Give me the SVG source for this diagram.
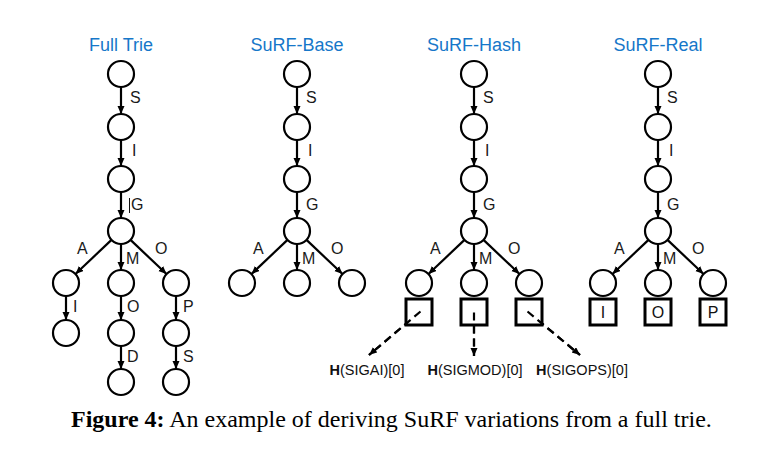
<svg xmlns="http://www.w3.org/2000/svg" width="764" height="449" viewBox="0 0 764 449">
<defs>
<marker id="ah" markerUnits="userSpaceOnUse" markerWidth="9" markerHeight="8" refX="8" refY="3.5" orient="auto">
<path d="M0,0 L8,3.5 L0,7 z" fill="#000"/>
</marker>
<style>
.title{font-family:"Liberation Sans",Arial,sans-serif;font-size:18px;fill:#1677c9;text-anchor:middle}
.lbl{font-family:"Liberation Sans",Arial,sans-serif;font-size:16px;fill:#1a1a1a}
.node circle{fill:#fff;stroke:#000;stroke-width:2.2}
.node rect{fill:#fff;stroke:#000;stroke-width:3}
.edge{stroke:#000;stroke-width:2.2;fill:none;marker-end:url(#ah)}
.dash{stroke:#000;stroke-width:2.2;fill:none;stroke-dasharray:8 5;marker-end:url(#ah)}
.hl{font-family:"Liberation Sans",Arial,sans-serif;font-size:14.5px;fill:#111;text-anchor:middle}
.box{font-family:"Liberation Sans",Arial,sans-serif;font-size:16px;fill:#111;text-anchor:middle}
.cap{font-family:"Liberation Serif","Times New Roman",serif;font-size:24px;fill:#000}
</style>
</defs>
<rect width="764" height="449" fill="#fff"/>

<!-- titles -->
<text class="title" x="121" y="51">Full Trie</text>
<text class="title" x="297" y="51">SuRF-Base</text>
<text class="title" x="474" y="51">SuRF-Hash</text>
<text class="title" x="658" y="51">SuRF-Real</text>

<!-- connectors -->
<g id="connectors">
<!-- Full trie -->
<line class="edge" x1="121" y1="87" x2="121" y2="114"/>
<line class="edge" x1="121" y1="140" x2="121" y2="166"/>
<line class="edge" x1="121" y1="192" x2="121" y2="218"/>
<line class="edge" x1="111.5" y1="239.9" x2="75.5" y2="274"/>
<line class="edge" x1="121" y1="244" x2="121" y2="270"/>
<line class="edge" x1="130.5" y1="239.9" x2="166.5" y2="274"/>
<line class="edge" x1="66" y1="296" x2="66" y2="320"/>
<line class="edge" x1="121" y1="296" x2="121" y2="320"/>
<line class="edge" x1="176" y1="296" x2="176" y2="320"/>
<line class="edge" x1="121" y1="346" x2="121" y2="369"/>
<line class="edge" x1="176" y1="346" x2="176" y2="369"/>
<!-- Base -->
<line class="edge" x1="297" y1="87" x2="297" y2="114"/>
<line class="edge" x1="297" y1="140" x2="297" y2="166"/>
<line class="edge" x1="297" y1="192" x2="297" y2="218"/>
<line class="edge" x1="287.5" y1="239.9" x2="251.5" y2="274"/>
<line class="edge" x1="297" y1="244" x2="297" y2="270"/>
<line class="edge" x1="306.5" y1="239.9" x2="342.5" y2="274"/>
<!-- Hash -->
<line class="edge" x1="474" y1="87" x2="474" y2="114"/>
<line class="edge" x1="474" y1="140" x2="474" y2="166"/>
<line class="edge" x1="474" y1="192" x2="474" y2="218"/>
<line class="edge" x1="464.5" y1="239.9" x2="428.5" y2="274"/>
<line class="edge" x1="474" y1="244" x2="474" y2="270"/>
<line class="edge" x1="483.5" y1="239.9" x2="519.5" y2="274"/>
<line class="dash" x1="420.5" y1="311.5" x2="369" y2="355"/>
<line class="dash" x1="474" y1="312.5" x2="474" y2="356"/>
<line class="dash" x1="527.5" y1="311.5" x2="580" y2="355"/>
<!-- Real -->
<line class="edge" x1="658" y1="87" x2="658" y2="114"/>
<line class="edge" x1="658" y1="140" x2="658" y2="166"/>
<line class="edge" x1="658" y1="192" x2="658" y2="218"/>
<line class="edge" x1="648.5" y1="239.9" x2="612.5" y2="274"/>
<line class="edge" x1="658" y1="244" x2="658" y2="270"/>
<line class="edge" x1="667.5" y1="239.9" x2="703.5" y2="274"/>
</g>

<!-- edge labels -->
<g id="labels">
<text class="lbl" x="130" y="103">S</text>
<text class="lbl" x="132" y="156">I</text>
<line x1="129.5" y1="198" x2="129.5" y2="213" stroke="#111" stroke-width="1"/>
<text class="lbl" x="131" y="210">G</text>
<text class="lbl" x="77" y="254">A</text>
<text class="lbl" x="126" y="264">M</text>
<text class="lbl" x="155" y="254">O</text>
<text class="lbl" x="73" y="311.5">I</text>
<text class="lbl" x="127" y="311.5">O</text>
<text class="lbl" x="183" y="311.5">P</text>
<text class="lbl" x="127" y="362">D</text>
<text class="lbl" x="183" y="362">S</text>

<text class="lbl" x="306" y="103">S</text>
<text class="lbl" x="308" y="156">I</text>
<text class="lbl" x="306" y="210">G</text>
<text class="lbl" x="253" y="254">A</text>
<text class="lbl" x="302" y="264">M</text>
<text class="lbl" x="331" y="254">O</text>

<text class="lbl" x="483" y="103">S</text>
<text class="lbl" x="485" y="156">I</text>
<text class="lbl" x="483" y="210">G</text>
<text class="lbl" x="430" y="254">A</text>
<text class="lbl" x="479" y="264">M</text>
<text class="lbl" x="508" y="254">O</text>

<text class="lbl" x="667" y="103">S</text>
<text class="lbl" x="669" y="156">I</text>
<text class="lbl" x="667" y="210">G</text>
<text class="lbl" x="614" y="254">A</text>
<text class="lbl" x="663" y="264">M</text>
<text class="lbl" x="692" y="254">O</text>

<text class="hl" x="367" y="375"><tspan font-weight="bold">H</tspan>(SIGAI)[0]</text>
<text class="hl" x="475" y="375"><tspan font-weight="bold">H</tspan>(SIGMOD)[0]</text>
<text class="hl" x="582" y="375"><tspan font-weight="bold">H</tspan>(SIGOPS)[0]</text>
</g>

<!-- Full Trie nodes -->
<g id="ft-root" class="node"><circle cx="121" cy="74" r="13"/></g>
<g id="ft-s" class="node"><circle cx="121" cy="127" r="13"/></g>
<g id="ft-si" class="node"><circle cx="121" cy="179" r="13"/></g>
<g id="ft-sig" class="node"><circle cx="121" cy="231" r="13"/></g>
<g id="ft-siga" class="node"><circle cx="66" cy="283" r="13"/></g>
<g id="ft-sigm" class="node"><circle cx="121" cy="283" r="13"/></g>
<g id="ft-sigo" class="node"><circle cx="176" cy="283" r="13"/></g>
<g id="ft-sigai" class="node"><circle cx="66" cy="333" r="13"/></g>
<g id="ft-sigmo" class="node"><circle cx="121" cy="333" r="13"/></g>
<g id="ft-sigop" class="node"><circle cx="176" cy="333" r="13"/></g>
<g id="ft-sigmod" class="node"><circle cx="121" cy="382" r="13"/></g>
<g id="ft-sigops" class="node"><circle cx="176" cy="382" r="13"/></g>

<!-- SuRF-Base nodes -->
<g id="b-root" class="node"><circle cx="297" cy="74" r="13"/></g>
<g id="b-s" class="node"><circle cx="297" cy="127" r="13"/></g>
<g id="b-si" class="node"><circle cx="297" cy="179" r="13"/></g>
<g id="b-sig" class="node"><circle cx="297" cy="231" r="13"/></g>
<g id="b-siga" class="node"><circle cx="242" cy="283" r="13"/></g>
<g id="b-sigm" class="node"><circle cx="297" cy="283" r="13"/></g>
<g id="b-sigo" class="node"><circle cx="352" cy="283" r="13"/></g>

<!-- SuRF-Hash nodes -->
<g id="h-root" class="node"><circle cx="474" cy="74" r="13"/></g>
<g id="h-s" class="node"><circle cx="474" cy="127" r="13"/></g>
<g id="h-si" class="node"><circle cx="474" cy="179" r="13"/></g>
<g id="h-sig" class="node"><circle cx="474" cy="231" r="13"/></g>
<g id="h-siga" class="node"><circle cx="419" cy="283" r="13"/><rect x="406" y="299" width="26" height="26"/></g>
<g id="h-sigm" class="node"><circle cx="474" cy="283" r="13"/><rect x="461" y="299" width="26" height="26"/></g>
<g id="h-sigo" class="node"><circle cx="529" cy="283" r="13"/><rect x="516" y="299" width="26" height="26"/></g>

<!-- SuRF-Real nodes -->
<g id="r-root" class="node"><circle cx="658" cy="74" r="13"/></g>
<g id="r-s" class="node"><circle cx="658" cy="127" r="13"/></g>
<g id="r-si" class="node"><circle cx="658" cy="179" r="13"/></g>
<g id="r-sig" class="node"><circle cx="658" cy="231" r="13"/></g>
<g id="r-siga" class="node"><circle cx="603" cy="283" r="13"/><rect x="590" y="299" width="26" height="26"/><text class="box" x="603" y="318">I</text></g>
<g id="r-sigm" class="node"><circle cx="658" cy="283" r="13"/><rect x="645" y="299" width="26" height="26"/><text class="box" x="658" y="318">O</text></g>
<g id="r-sigo" class="node"><circle cx="713" cy="283" r="13"/><rect x="700" y="299" width="26" height="26"/><text class="box" x="713" y="318">P</text></g>

<!-- hash dashes over boxes -->
<g id="hash-links">
<line class="dash" x1="420.5" y1="311.5" x2="369" y2="355" style="marker-end:none"/>
<line class="dash" x1="474" y1="312.5" x2="474" y2="356" style="marker-end:none"/>
<line class="dash" x1="527.5" y1="311.5" x2="580" y2="355" style="marker-end:none"/>
</g>

<text class="cap" x="71" y="427"><tspan font-weight="bold">Figure 4:</tspan> An example of deriving SuRF variations from a full trie.</text>
</svg>
